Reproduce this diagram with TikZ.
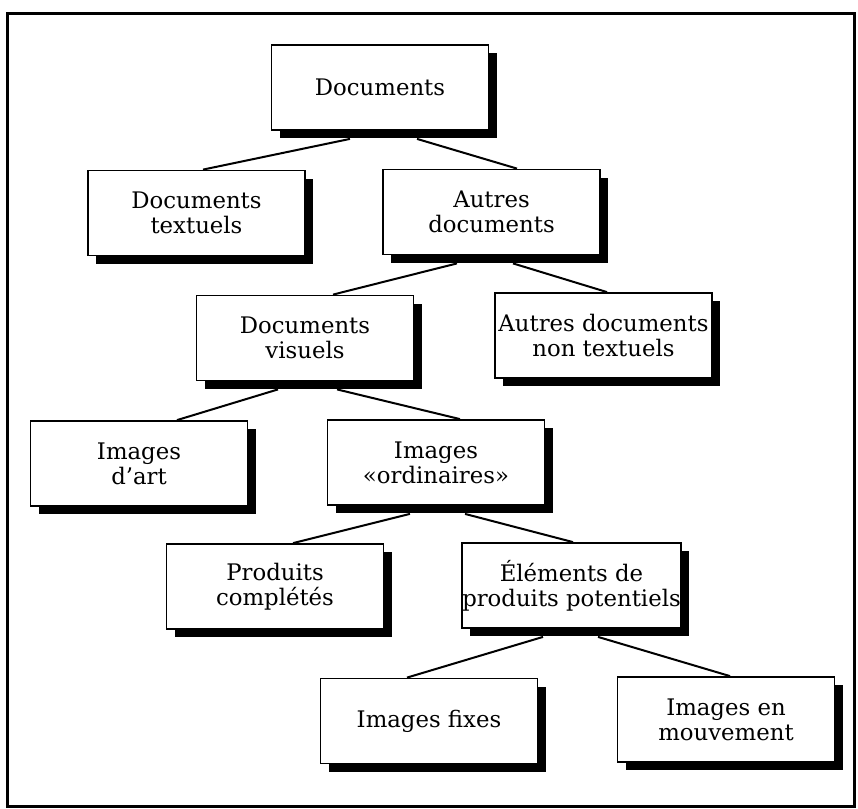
\documentclass[tikz,border=0pt]{standalone}
\usepackage{fontspec}
\setmainfont{DejaVu Serif}
\usetikzlibrary{shadows}

\begin{document}
\begin{tikzpicture}[x=0.5pt, y=-0.5pt,
    box/.style={draw, fill=white, line width=0.9pt, minimum width=108.5pt, minimum height=42.5pt,
        inner sep=0pt, align=center, font=\fontsize{11.4}{12.5}\selectfont,
        drop shadow={shadow xshift=4pt, shadow yshift=-4pt, fill=black, opacity=1}},
    link/.style={line width=1pt}]
    \useasboundingbox (0,0) rectangle (858,809);
    \draw[line width=1.5pt] (7,13) rectangle (854,806);

    % top levels
    \node[box] (doc) at (380,87.5) {Documents};
    \node[box] (dtx) at (196.5,213) {Documents\\textuels};
    \node[box] (aut) at (491.5,212) {Autres\\documents};

    % visual documents
    \node[box] (dvis) at (305,338) {Documents\\visuels};
    \node[box] (nontx) at (603.5,335.5) {Autres documents\\non textuels};
    \node[box] (art) at (139,463.5) {Images\\d'art};
    \node[box] (ord) at (436,462.5) {Images\\«ordinaires»};

    % products
    \node[box] (prod) at (275,586.5) {Produits\\complétés};
    \node[box] (elem) at (571.5,585.5) {Éléments de\\produits potentiels};
    \node[box] (fixe) at (429,721) {Images fixes};
    \node[box] (mouv) at (726,719.5) {Images en\\mouvement};

    % Connections
    \draw[link] ([xshift=-15pt,yshift=-4pt]doc.south) -- ([xshift=3.25pt]dtx.north);
    \draw[link] ([xshift=18.5pt,yshift=-4pt]doc.south) -- ([xshift=12.75pt]aut.north);
    \draw[link] ([xshift=-17.25pt,yshift=-4pt]aut.south) -- ([xshift=14pt]dvis.north);
    \draw[link] ([xshift=10.75pt,yshift=-4pt]aut.south) -- ([xshift=1.75pt]nontx.north);
    \draw[link] ([xshift=-13.5pt,yshift=-4pt]dvis.south) -- ([xshift=19pt]art.north);
    \draw[link] ([xshift=16pt,yshift=-4pt]dvis.south) -- ([xshift=12pt]ord.north);
    \draw[link] ([xshift=-13pt,yshift=-4pt]ord.south) -- ([xshift=9pt]prod.north);
    \draw[link] ([xshift=14.5pt,yshift=-4pt]ord.south) -- ([xshift=0.75pt]elem.north);
    \draw[link] ([xshift=-14.25pt,yshift=-4pt]elem.south) -- ([xshift=-11pt]fixe.north);
    \draw[link] ([xshift=13.25pt,yshift=-4pt]elem.south) -- ([xshift=2pt]mouv.north);
\end{tikzpicture}
\end{document}
